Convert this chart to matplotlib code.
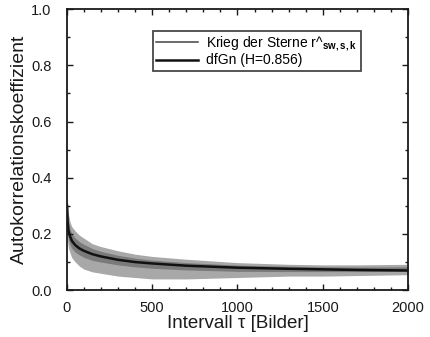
import matplotlib
matplotlib.use("Agg")
import matplotlib.pyplot as plt
from matplotlib.ticker import MultipleLocator

plt.rcParams['font.family'] = ['Liberation Sans', 'DejaVu Sans']
plt.rcParams['mathtext.fontset'] = 'custom'
plt.rcParams['mathtext.rm'] = 'Liberation Sans'
plt.rcParams['mathtext.bf'] = 'Liberation Sans:bold'

# values
tau = [1, 5, 10, 20, 30, 50, 75, 100, 150, 200, 300, 400, 500, 700,
       1000, 1300, 1500, 1700, 2000]
# empirical autocorrelation (Krieg der Sterne): envelope of the noisy band
sw_upper = [0.36, 0.31, 0.27, 0.24, 0.225, 0.21, 0.195, 0.185, 0.165, 0.155,
            0.14, 0.128, 0.12, 0.11, 0.098, 0.092, 0.09, 0.09, 0.092]
sw_lower = [0.22, 0.17, 0.15, 0.13, 0.115, 0.10, 0.085, 0.075, 0.065, 0.06,
            0.05, 0.045, 0.04, 0.04, 0.045, 0.05, 0.05, 0.052, 0.055]
# denser core of the band
sw_core_hi = [0.33, 0.28, 0.245, 0.215, 0.20, 0.185, 0.172, 0.163, 0.148, 0.138,
              0.124, 0.114, 0.107, 0.098, 0.089, 0.085, 0.083, 0.082, 0.083]
sw_core_lo = [0.26, 0.20, 0.18, 0.16, 0.148, 0.135, 0.125, 0.117, 0.106, 0.10,
              0.09, 0.083, 0.078, 0.072, 0.067, 0.066, 0.066, 0.066, 0.067]
# fitted dfGn curve
dfgn = [0.30, 0.24, 0.21, 0.19, 0.175, 0.16, 0.148, 0.14, 0.128, 0.12,
        0.108, 0.10, 0.095, 0.087, 0.08, 0.076, 0.074, 0.072, 0.070]

fig = plt.figure(figsize=(4.31, 3.37), dpi=100)
ax = fig.add_axes([0.155, 0.139, 0.792, 0.834])

ax.fill_between(tau, sw_lower, sw_upper, color='#a8a8a8', lw=0)
ax.fill_between(tau, sw_core_lo, sw_core_hi, color='#7a7a7a', lw=0)
ax.plot([], [], color='#444444', lw=1.1, label=r'Krieg der Sterne r^$_{\mathbf{sw,s,k}}$')
ax.plot(tau, dfgn, color='#111111', lw=1.8, label='dfGn (H=0.856)')

ax.set_xlim(0, 2000)
ax.set_ylim(0, 1.0)
ax.xaxis.set_major_locator(MultipleLocator(500))
ax.xaxis.set_minor_locator(MultipleLocator(100))
ax.yaxis.set_major_locator(MultipleLocator(0.2))
ax.yaxis.set_minor_locator(MultipleLocator(0.1))
ax.yaxis.set_major_formatter(plt.FuncFormatter(lambda v, p: f'{v:.1f}'))
ax.tick_params(which='both', direction='in', top=True, right=True,
               labelsize=10.5, colors='#1a1a1a', width=1)
ax.tick_params(which='major', length=4)
ax.tick_params(which='minor', length=2.5)
ax.tick_params(axis='y', pad=11)
ax.tick_params(axis='x', pad=8)
for s in ax.spines.values():
    s.set_linewidth(1.3)
    s.set_color('#1a1a1a')

ax.set_xlabel(u'Intervall \u03c4 [Bilder]', fontsize=13.5, color='#1a1a1a', labelpad=0)
ax.set_ylabel('Autokorrelationskoeffizient', fontsize=14, color='#1a1a1a', labelpad=2)

leg = ax.legend(loc='upper left', bbox_to_anchor=(0.252, 0.922), fontsize=10,
                frameon=True, fancybox=False, edgecolor='#1a1a1a',
                handlelength=3.0, handletextpad=0.6, borderpad=0.25,
                labelspacing=0.05, borderaxespad=0)
leg.get_frame().set_linewidth(1.3)

fig.savefig('out.png', dpi=100)
